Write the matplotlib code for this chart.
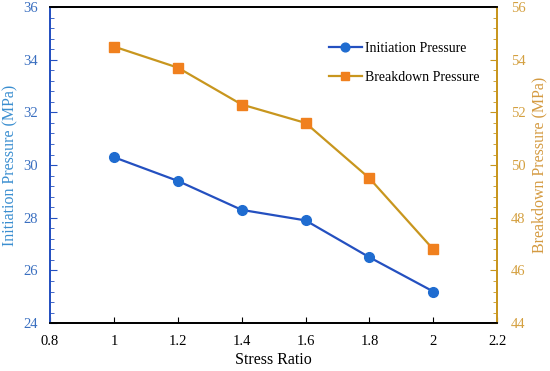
import matplotlib
matplotlib.use("Agg")
import matplotlib.pyplot as plt
from matplotlib.ticker import MultipleLocator

stress_ratio = [1.0, 1.2, 1.4, 1.6, 1.8, 2.0]
initiation = [30.3, 29.4, 28.3, 27.9, 26.5, 25.2]
breakdown = [54.5, 53.7, 52.3, 51.6, 49.5, 46.8]
xticks = [0.8, 1, 1.2, 1.4, 1.6, 1.8, 2, 2.2]
xticklabels = ["0.8", "1", "1.2", "1.4", "1.6", "1.8", "2", "2.2"]

plt.rcParams['font.family'] = ['Liberation Serif', 'DejaVu Serif']

blue_line = "#2450C0"
blue_mark = "#1F6CD0"
blue_text = "#3A6FC0"
orange_line = "#C8961E"
orange_mark = "#F0801E"
orange_text = "#D4A040"

fig = plt.figure(figsize=(5.5, 3.71), dpi=100)
ax = fig.add_axes([0.091, 0.129, 0.813, 0.852])
ax2 = ax.twinx()

l1, = ax.plot(stress_ratio, initiation, color=blue_line, lw=1.6, marker='o', ms=7,
              mfc=blue_mark, mec=blue_mark, label="Initiation Pressure")
l2, = ax2.plot(stress_ratio, breakdown, color=orange_line, lw=1.6, marker='s', ms=7,
               mfc=orange_mark, mec=orange_mark, label="Breakdown Pressure")

ax.set_xlim(0.8, 2.2)
ax.set_ylim(24, 36)
ax2.set_ylim(44, 56)
ax.set_xticks(xticks)
ax.set_xticklabels(xticklabels)
ax.yaxis.set_major_locator(MultipleLocator(2))
ax.yaxis.set_minor_locator(MultipleLocator(0.4))
ax2.yaxis.set_major_locator(MultipleLocator(2))
ax2.yaxis.set_minor_locator(MultipleLocator(0.4))

ax.tick_params(axis='x', direction='in', length=4, colors='black', labelsize=10.5, pad=8.5)
ax.tick_params(axis='y', which='major', direction='in', length=5, color=blue_line, labelcolor=blue_text, labelsize=10.5, pad=9)
ax.tick_params(axis='y', which='minor', direction='in', length=3, color=blue_line)
ax2.tick_params(axis='y', which='major', direction='in', length=5, color=orange_line, labelcolor=orange_text, labelsize=10.5, pad=10)
ax2.tick_params(axis='y', which='minor', direction='in', length=3, color=orange_line)

for a in (ax, ax2):
    a.spines['top'].set_color('black')
    a.spines['bottom'].set_color('black')
    a.spines['left'].set_color(blue_line)
    a.spines['right'].set_color(orange_line)
    for s in a.spines.values():
        s.set_linewidth(1.3)

ax.set_xlabel("Stress Ratio", fontsize=11.5, labelpad=3)
ax.set_ylabel("Initiation Pressure (MPa)", fontsize=11.5, color="#3A8ED0", labelpad=3)
ax2.set_ylabel("Breakdown Pressure (MPa)", fontsize=11.5, color="#D49A40", labelpad=4)

ax.legend([l1, l2], [l1.get_label(), l2.get_label()], loc='upper left',
          bbox_to_anchor=(0.595, 0.93), frameon=False, fontsize=10,
          handlelength=2.4, labelspacing=1.2, handletextpad=0.2, markerscale=0.9)

fig.savefig("out.png", dpi=100)
